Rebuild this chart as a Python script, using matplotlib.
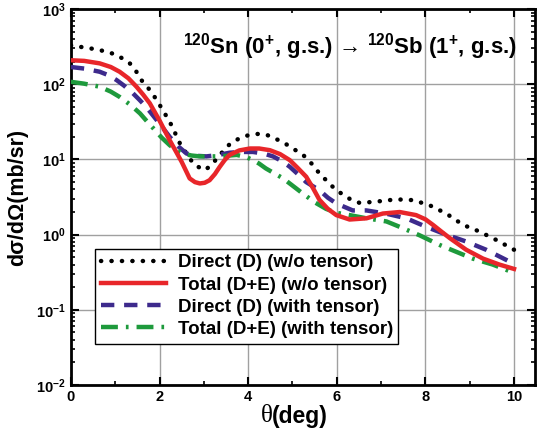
import numpy as np
import matplotlib
matplotlib.use('Agg')
import matplotlib.pyplot as plt
from matplotlib.ticker import LogLocator, FixedLocator, NullFormatter

plt.rcParams['font.family'] = ['Liberation Sans', 'DejaVu Sans']
plt.rcParams['font.weight'] = 'bold'
plt.rcParams['mathtext.fontset'] = 'custom'
plt.rcParams['mathtext.rm'] = 'Liberation Sans:bold'
plt.rcParams['mathtext.it'] = 'Liberation Sans:bold'
plt.rcParams['mathtext.bf'] = 'Liberation Sans:bold'

# Direct (D) (w/o tensor) - black dotted
x_dir = [0, 0.2, 0.45, 0.65, 0.85, 1.03, 1.2, 1.33, 1.47, 1.59, 1.82, 2.08, 2.27, 2.46,
         2.68, 2.8, 3.02, 3.17, 3.36, 3.58, 3.78, 3.96, 4.19, 4.4, 4.56, 4.8, 5.01, 5.24,
         5.45, 5.61, 5.95, 6.14, 6.33, 6.52, 6.89, 7.34, 7.72, 8.09, 8.47, 8.85, 9.22,
         9.6, 10.0]
y_dir = [330, 316, 300, 285, 268, 245, 215, 190, 150, 114, 79, 45, 28.6, 16.4,
         10.3, 8.4, 7.2, 8.4, 11.5, 15.9, 18.8, 20.7, 21.9, 21.5, 19.6, 16.8, 14, 11.5,
         8.6, 6.5, 4.1, 3.4, 2.9, 2.64, 2.75, 2.95, 2.88, 2.47, 1.91, 1.35, 1.1,
         0.85, 0.63]

# Total (D+E) (w/o tensor) - red solid
x_tot = [0, 0.3, 0.65, 0.9, 1.1, 1.3, 1.48, 1.63, 1.78, 2.0, 2.23, 2.38, 2.5, 2.68, 2.8,
         2.91, 3.02, 3.13, 3.25, 3.36, 3.47, 3.58, 3.8, 4.04, 4.25, 4.49, 4.72, 4.94, 5.12,
         5.31, 5.46, 5.61, 5.8, 5.99, 6.29, 6.67, 7.04, 7.42, 7.79, 8.0, 8.17, 8.36, 8.55,
         8.92, 9.3, 9.67, 10.0]
y_tot = [209, 205, 190, 170, 147, 120, 93, 73, 56, 33, 18, 12.5, 9.3, 5.6, 5.0,
         4.8, 4.9, 5.3, 6.4, 8.0, 9.8, 11.5, 13.2, 14, 14, 13.3, 11.8, 9.8, 7.7,
         5.9, 4.2, 2.9, 2.2, 1.82, 1.59, 1.65, 1.91, 2.0, 1.82, 1.6, 1.35, 1.1, 0.9,
         0.63, 0.48, 0.40, 0.35]

# Direct (D) (with tensor) - purple dashed
x_dirt = [0, 0.3, 0.65, 0.85, 1.03, 1.2, 1.4, 1.55, 1.7, 2.0, 2.23, 2.42, 2.61, 2.82,
          3.06, 3.3, 3.58, 3.85, 4.11, 4.35, 4.56, 4.75, 4.94, 5.12, 5.31, 5.61, 5.8,
          5.99, 6.36, 6.67, 7.12, 7.57, 8.02, 8.47, 8.92, 9.37, 9.86, 10.0]
y_dirt = [170, 162, 147, 132, 114, 96, 76, 62, 50, 30, 20, 15, 12, 11.2,
          11, 11.4, 12.3, 12.6, 12.6, 12, 11, 9.6, 8, 6.4, 5, 3.9, 3.1,
          2.6, 2.1, 2.1, 1.9, 1.65, 1.27, 1.0, 0.81, 0.63, 0.45, 0.43]

# Total (D+E) (with tensor) - green dash-dot
x_tott = [0, 0.3, 0.65, 0.9, 1.1, 1.35, 1.56, 1.72, 1.86, 2.05, 2.23, 2.38, 2.53, 2.72,
          2.91, 3.36, 3.74, 3.95, 4.11, 4.25, 4.4, 4.6, 4.79, 5.0, 5.24, 5.5, 5.76, 6.0,
          6.29, 6.67, 7.12, 7.42, 7.87, 8.32, 8.70, 9.07, 9.52, 9.94, 10.0]
y_tott = [108, 102, 93, 80, 68, 53, 41, 32, 26, 19.5, 15.5, 13.3, 12, 11.3,
          11, 11, 11.5, 10.8, 9.8, 8.8, 7.6, 6.5, 5.6, 4.5, 3.5, 2.7, 2.2, 1.95,
          1.82, 1.65, 1.5, 1.27, 0.98, 0.73, 0.59, 0.48, 0.40, 0.32, 0.31]

labels = ['Direct (D) (w/o tensor)', 'Total (D+E) (w/o tensor)',
          'Direct (D) (with tensor)', 'Total (D+E) (with tensor)']

fig = plt.figure(figsize=(5.37, 4.36), dpi=100)
ax = fig.add_axes([0.132, 0.117, 0.864, 0.862])

ax.plot(x_dir, y_dir, color='black', lw=3.2, linestyle=(0, (0.05, 2.3)),
        dash_capstyle='round', solid_joinstyle='round', label=labels[0], zorder=3)
ax.plot(x_tot, y_tot, color='#e8262a', lw=3.2, solid_joinstyle='round',
        label=labels[1], zorder=4)
ax.plot(x_dirt, y_dirt, color='#3d2a8c', lw=3.2, linestyle=(0, (3, 2.2)),
        label=labels[2], zorder=3)
ax.plot(x_tott, y_tott, color='#1e9a3c', lw=3.2, linestyle=(0, (3.8, 1.8, 0.6, 1.8)),
        label=labels[3], zorder=3)

ax.set_yscale('log')
ax.set_xlim(0, 10.47)
ax.set_ylim(1e-2, 1e3)
ax.xaxis.set_major_locator(FixedLocator([0, 2, 4, 6, 8, 10]))
ax.xaxis.set_minor_locator(FixedLocator([1, 3, 5, 7, 9]))
ax.yaxis.set_major_locator(LogLocator(base=10, numticks=10))
ax.yaxis.set_minor_locator(LogLocator(base=10, subs=np.arange(2, 10), numticks=20))
ax.yaxis.set_minor_formatter(NullFormatter())

ax.grid(True, which='major', color='#a0a0a0', lw=1)
ax.tick_params(which='both', direction='in', top=True, right=True, labelsize=10.5)
ax.tick_params(which='major', length=6, width=1.5)
ax.tick_params(which='minor', length=3, width=1.2)
for s in ax.spines.values():
    s.set_linewidth(2)

ax.set_ylabel('dσ/dΩ(mb/sr)', fontsize=15.5, fontweight='bold', labelpad=6)
fig.text(0.507, 0.045, 'θ', family='Liberation Serif', fontweight='normal',
         fontsize=18, ha='right', va='center')
fig.text(0.507, 0.045, '(deg)', fontsize=16.5, fontweight='bold', ha='left', va='center')

ax.text(0.962, 0.9, r'$^{120}$Sn (0$^{+}$, g.s.) → $^{120}$Sb (1$^{+}$, g.s.)',
        transform=ax.transAxes, fontsize=16, fontweight='bold', ha='right', va='center')

leg = ax.legend(loc='lower left', bbox_to_anchor=(0.052, 0.11), fontsize=13.5,
                frameon=True, fancybox=False, edgecolor='black', framealpha=1,
                handlelength=3.5, borderpad=0.3, labelspacing=0.27, handletextpad=0.6,
                borderaxespad=0)
leg.get_frame().set_linewidth(1)

fig.savefig('out.png', dpi=100)
